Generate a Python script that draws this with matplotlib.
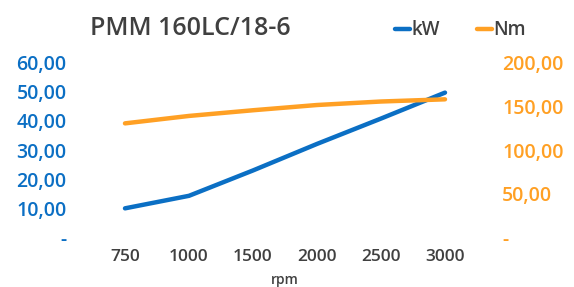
import matplotlib.pyplot as plt
from matplotlib.ticker import FuncFormatter

plt.rcParams['font.family'] = ['Open Sans', 'DejaVu Sans']

rpm = ["750", "1000", "1500", "2000", "2500", "3000"]
kw = [10.0, 14.3, 23.0, 32.1, 40.8, 49.7]
nm = [130.5, 139.0, 145.5, 151.5, 155.5, 158.0]

blue = "#0B6FC4"
orange = "#FFA024"
grey = "#404040"


def excel_fmt(v, pos):
    if abs(v) < 1e-9:
        return "-"
    return f"{v:.2f}".replace(".", ",")


fig = plt.figure(figsize=(5.74, 2.87), dpi=100)
ax = fig.add_axes([0.162, 0.1725, 0.669, 0.6094])
ax2 = ax.twinx()

x = range(len(rpm))
l1, = ax.plot(x, kw, color=blue, lw=3.2, solid_capstyle="round", label="kW")
l2, = ax2.plot(x, nm, color=orange, lw=3.2, solid_capstyle="round", label="Nm")

ax.set_xlim(-0.5, len(rpm) - 0.5)
ax.set_ylim(0, 60)
ax2.set_ylim(0, 200)
ax.set_xticks(list(x))
ax.set_xticklabels(rpm)
ax.set_yticks([0, 10, 20, 30, 40, 50, 60])
ax2.set_yticks([0, 50, 100, 150, 200])
ax.yaxis.set_major_formatter(FuncFormatter(excel_fmt))
ax2.yaxis.set_major_formatter(FuncFormatter(excel_fmt))

# gridlines only between 10 and 50 like the original
ax.set_yticks([10, 20, 30, 40, 50], minor=True)
ax.grid(False)
ax.yaxis.grid(True, which="minor", color="#E6E6E6", lw=1.6)
ax.tick_params(axis="y", which="minor", length=0)
ax.set_axisbelow(True)

for a in (ax, ax2):
    for s in a.spines.values():
        s.set_visible(False)
    a.tick_params(length=0)

ax.tick_params(axis="x", labelsize=12.5, labelcolor=grey, pad=8)
ax.tick_params(axis="y", labelsize=14, labelcolor=blue, pad=19)
ax2.tick_params(axis="y", labelsize=14, labelcolor=orange, pad=18)
for t in ax.get_xticklabels() + ax.get_yticklabels() + ax2.get_yticklabels():
    t.set_fontweight("semibold")

ax.set_xlabel("rpm", fontsize=10, color=grey, labelpad=6, fontweight="semibold")

fig.text(0.157, 0.90, "PMM 160LC/18-6", fontsize=18, color=grey,
         va="center", ha="left", fontweight="semibold")

leg = fig.legend(handles=[l1, l2], loc="center left",
                 bbox_to_anchor=(0.672, 0.895), ncol=2, frameon=False,
                 prop={"size": 13.5, "weight": "semibold"},
                 handlelength=0.8, handletextpad=0.05,
                 columnspacing=2.0, borderpad=0)
for t in leg.get_texts():
    t.set_color(grey)

fig.savefig("out.png", dpi=100)
